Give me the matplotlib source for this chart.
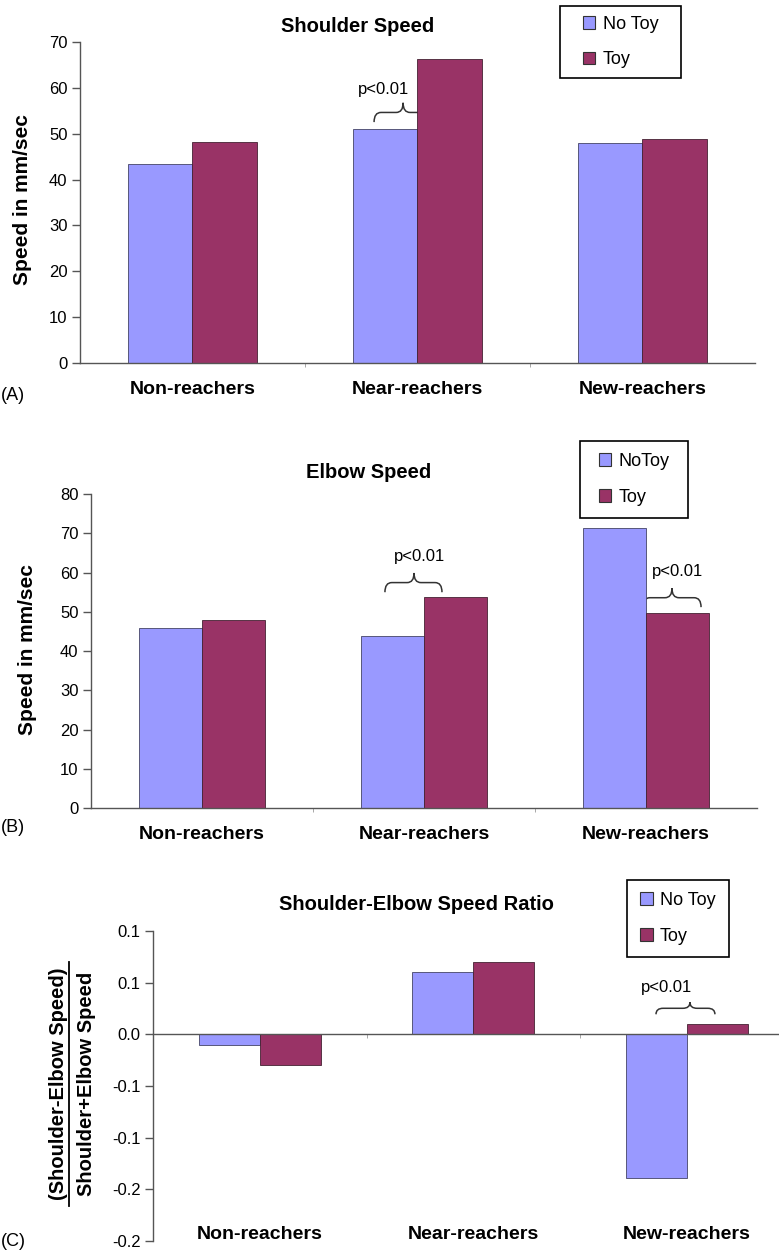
import matplotlib
matplotlib.use('Agg')
import matplotlib.pyplot as plt
from matplotlib.path import Path
from matplotlib.patches import PathPatch, Patch, Rectangle
from matplotlib.lines import Line2D

# data
groups = ['Non-reachers', 'Near-reachers', 'New-reachers']
shoulder_notoy = [43.3, 51.1, 48.0]
shoulder_toy = [48.2, 66.2, 48.8]
elbow_notoy = [45.8, 43.9, 71.3]
elbow_toy = [48.0, 53.8, 49.6]
ratio_notoy = [-0.010, 0.060, -0.139]
ratio_toy = [-0.030, 0.070, 0.010]
ratio_ticks = [0.1, 0.05, 0.0, -0.05, -0.1, -0.15, -0.2]
ratio_ticklabels = ['0.1', '0.1', '0.0', '-0.1', '-0.1', '-0.2', '-0.2']

W, H = 779, 1256
NOTOY = '#9999ff'
TOY = '#993366'
FONT = ['Liberation Sans', 'DejaVu Sans']

plt.rcParams['font.family'] = FONT

fig = plt.figure(figsize=(W / 100, H / 100), dpi=100)


def px(x, y):
    return x / W, 1 - y / H


def brace(ax, x0, x1, xm, y, h):
    r = (x1 - x0) * 0.12
    ym = y + h / 2
    verts = [(x0, y), (x0, ym), (x0 + r, ym), (xm - r, ym), (xm, ym), (xm, y + h),
             (xm, ym), (xm + r, ym), (x1 - r, ym), (x1, ym), (x1, y)]
    codes = [Path.MOVETO, Path.CURVE3, Path.CURVE3, Path.LINETO, Path.CURVE3, Path.CURVE3,
             Path.CURVE3, Path.CURVE3, Path.LINETO, Path.CURVE3, Path.CURVE3]
    ax.add_patch(PathPatch(Path(verts, codes), fill=False, lw=1.1, ec='#333333',
                           clip_on=False))


def legend_box(box, names):
    # box = (left, top, right, bottom) in pixels
    l, t, r, b = box
    x0, y0 = px(l, b)
    fig.add_artist(Rectangle((x0, y0), (r - l) / W, (b - t) / H, transform=fig.transFigure,
                             fill=False, ec='black', lw=1.2))
    fig.legend(handles=[Patch(fc=NOTOY, ec='#333333', lw=0.8, label=names[0]),
                        Patch(fc=TOY, ec='#333333', lw=0.8, label=names[1])],
               loc='center', bbox_to_anchor=px((l + r) / 2, (t + b) / 2), fontsize=13,
               frameon=False, handlelength=0.7, handleheight=0.7, handletextpad=0.4,
               labelspacing=1.05, borderpad=0, borderaxespad=0)


def panel(rect, a, b, ylim, yticks, box, names):
    ax = fig.add_axes(rect)
    idx = range(len(groups))
    bw = 0.285
    ax.bar([i - bw / 2 for i in idx], a, bw, color=NOTOY, edgecolor='#444466', lw=0.6,
           label=names[0], zorder=2)
    ax.bar([i + bw / 2 for i in idx], b, bw, color=TOY, edgecolor='#442233', lw=0.6,
           label=names[1], zorder=2)
    ax.set_xlim(-0.5, 2.5)
    ax.set_ylim(*ylim)
    ax.set_yticks(yticks)
    for s in ['top', 'right']:
        ax.spines[s].set_visible(False)
    for s in ['left', 'bottom']:
        ax.spines[s].set_color('#555555')
        ax.spines[s].set_linewidth(1.0)
    ax.tick_params(axis='y', length=6, width=1, color='#555555', labelsize=12, pad=3)
    ax.set_xticks([0.5, 1.5], minor=True)
    ax.tick_params(axis='x', which='minor', length=3, color='#999999')
    legend_box(box, names)
    return ax


# (A) shoulder speed
axA = panel([80 / W, 1 - 363.3 / H, 675 / W, 321.6 / H], shoulder_notoy, shoulder_toy,
            (0, 70), range(0, 71, 10), (560, 6, 681, 78), ['No Toy', 'Toy'])
axA.set_xticks(range(3))
axA.set_xticklabels(groups, fontsize=14, fontweight='bold')
axA.tick_params(axis='x', which='major', length=0, pad=13)
brace(axA, 0.807, 1.064, 0.936, 52.5, 4.2)
axA.text(0.851, 59.7, 'p<0.01', ha='center', va='center', fontsize=12)

# (B) elbow speed
axB = panel([91 / W, 1 - 808.3 / H, 666 / W, 314.3 / H], elbow_notoy, elbow_toy,
            (0, 80), range(0, 81, 10), (580, 441, 688, 518), ['NoToy', 'Toy'])
axB.set_xticks(range(3))
axB.set_xticklabels(groups, fontsize=14, fontweight='bold')
axB.tick_params(axis='x', which='major', length=0, pad=13)
brace(axB, 0.824, 1.081, 0.955, 55.0, 4.9)
axB.text(0.982, 64.0, 'p<0.01', ha='center', va='center', fontsize=12)
brace(axB, 1.986, 2.248, 2.117, 51.2, 4.8)
axB.text(2.144, 60.2, 'p<0.01', ha='center', va='center', fontsize=12)

# (C) shoulder-elbow ratio
axC = panel([153 / W, 1 - 1241 / H, 640.5 / W, 310 / H], ratio_notoy, ratio_toy,
            (-0.2, 0.1), ratio_ticks, (627, 880, 729, 957), ['No Toy', 'Toy'])
axC.set_yticklabels(ratio_ticklabels)
axC.spines['bottom'].set_position(('data', 0))
axC.spines['bottom'].set_clip_on(False)
axC.set_xticks([])
axC.set_xticks([0.5, 1.5], minor=True)
for i, g in enumerate(groups):
    axC.text(i, 0.021, g, transform=axC.get_xaxis_transform(), ha='center', va='center',
             fontsize=14, fontweight='bold')
brace(axC, 1.856, 2.132, 2.015, 0.0194, 0.0116)
axC.text(1.907, 0.0455, 'p<0.01', ha='center', va='center', fontsize=12)

# titles
fig.text(*px(358, 26), 'Shoulder Speed', ha='center', va='center', fontsize=14.5,
         fontweight='bold')
fig.text(*px(369, 472), 'Elbow Speed', ha='center', va='center', fontsize=14.5,
         fontweight='bold')
fig.text(*px(416, 904), 'Shoulder-Elbow Speed Ratio', ha='center', va='center',
         fontsize=14.5, fontweight='bold')

# y labels
fig.text(*px(23, 200), 'Speed in mm/sec', rotation=90, ha='center', va='center',
         fontsize=15, fontweight='bold')
fig.text(*px(28, 650), 'Speed in mm/sec', rotation=90, ha='center', va='center',
         fontsize=15, fontweight='bold')
fig.text(*px(59, 1084), '(Shoulder-Elbow Speed)', rotation=90, ha='center', va='center',
         fontsize=14.5, fontweight='bold')
fig.text(*px(87, 1084), 'Shoulder+Elbow Speed', rotation=90, ha='center', va='center',
         fontsize=14.5, fontweight='bold')
x0, y0 = px(68.5, 962)
x1, y1 = px(68.5, 1206)
fig.add_artist(Line2D([x0, x1], [y0, y1], color='black', lw=1.3))

# panel letters
fig.text(*px(1, 395), '(A)', ha='left', va='center', fontsize=13)
fig.text(*px(1, 828), '(B)', ha='left', va='center', fontsize=13)
fig.text(*px(1, 1242), '(C)', ha='left', va='center', fontsize=13)

fig.savefig('out.png', dpi=100)
